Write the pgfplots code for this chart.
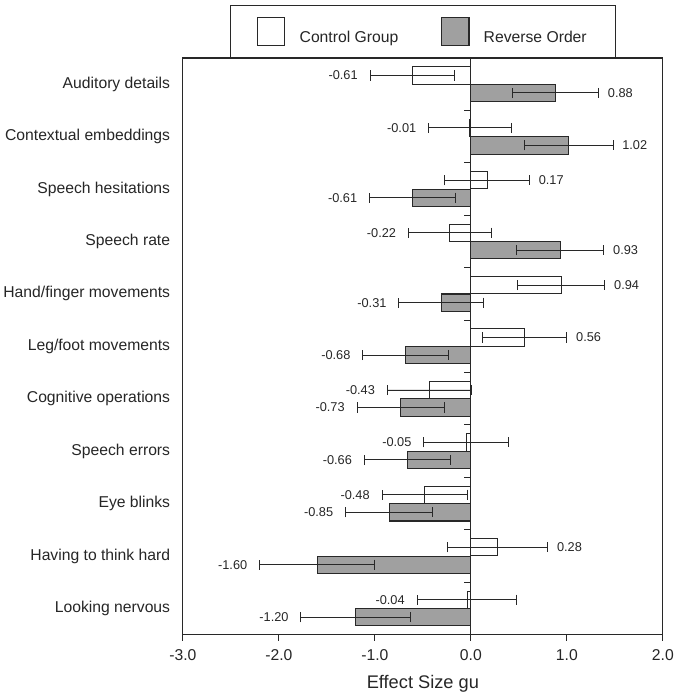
\documentclass[border=0pt]{standalone}
\usepackage{fontspec}
\setmainfont{Liberation Sans}
\usepackage{pgfplots}
\pgfplotsset{compat=1.18}
\usepackage{pgfplotstable}
\definecolor{barfill}{RGB}{160,160,160}
\definecolor{linegray}{RGB}{40,40,40}

% i: category from top; ctrl/rev: effect size; ctrlE/revE: error half-width
\pgfplotstableread{
i  ctrl  ctrlE  rev    revE
1  -0.61 0.44   0.88   0.45
2  -0.01 0.43   1.02   0.46
3   0.17 0.44  -0.61   0.445
4  -0.22 0.43   0.93   0.455
5   0.94 0.455 -0.31   0.44
6   0.56 0.44  -0.68   0.445
7  -0.43 0.44  -0.73   0.455
8  -0.05 0.44  -0.66   0.45
9  -0.48 0.445 -0.85   0.455
10  0.28 0.52  -1.60   0.60
11 -0.04 0.52  -1.20   0.57
}\data

\pgfplotsset{
    errstyle/.style={
        error bars/.cd, x dir=both, x explicit,
        error mark=|,
        error bar style={line width=0.9bp, linegray},
        error mark options={mark size=5bp, line width=0.9bp, linegray}},
    vallabel/.style={forget plot, draw=none, mark=none, point meta=explicit,
        nodes near coords={\pgfmathprintnumber[fixed, fixed zerofill, precision=2]{\pgfplotspointmeta}}},
}

\begin{document}
\begin{tikzpicture}
\begin{axis}[
    scale only axis,
    width=472bp, height=567bp,
    xmin=-3, xmax=2, ymin=0.5, ymax=11.5,
    y dir=reverse,
    /pgf/number format/assume math mode=true,
    xtick={-3,-2,-1,0,1,2},
    xticklabel style={yshift=-5bp, /pgf/number format/.cd, fixed, fixed zerofill, precision=1},
    ytick={1,...,11},
    yticklabels={Auditory details, Contextual embeddings, Speech hesitations,
        Speech rate, Hand/finger movements, Leg/foot movements,
        Cognitive operations, Speech errors, Eye blinks,
        Having to think hard, Looking nervous},
    yticklabel style={xshift=-3bp},
    ytick style={draw=none},
    xtick pos=bottom,
    tick align=outside,
    major tick length=6bp,
    tick style={linegray, line width=1bp},
    tick label style={font=\fontsize{15.5}{18}\selectfont, text=black!85},
    xlabel={Effect Size gu},
    xlabel style={font=\fontsize{18}{21}\selectfont, text=black!85, yshift=-8bp},
    axis line style={linegray, line width=1.2bp},
    bar width=0.33,
    legend style={at={(0.5,1)}, anchor=south, legend columns=2,
        draw=linegray, line width=1bp, inner xsep=26bp, inner ysep=11.5bp,
        font=\fontsize{15.5}{18}\selectfont, text=black!85,
        cells={anchor=west, inner sep=0pt},
        /tikz/every odd column/.append style={column sep=12bp},
        /tikz/every even column/.append style={column sep=40bp}},
    legend image code/.code={\draw[#1] (0bp,-7.9bp) rectangle (27bp,19.1bp);},
    every node near coord/.append style={font=\fontsize{12.6}{14}\selectfont, text=black!85, inner sep=0pt},
]
\addplot[xbar, bar shift=0pt, draw=linegray, fill=white, line width=1bp, errstyle]
    table[x=ctrl, y expr=\thisrow{i}-0.167, x error=ctrlE]{\data};
\addlegendentry{Control Group}
\addplot[xbar, bar shift=0pt, draw=linegray, fill=barfill, line width=1bp, errstyle]
    table[x=rev, y expr=\thisrow{i}+0.167, x error=revE]{\data};
\addlegendentry{Reverse Order}

% value labels beside the error bar ends
\addplot[vallabel, restrict x to domain=-10:0,
    nodes near coords style={anchor=east, xshift=-12bp}]
    table[x expr={(\thisrow{ctrl}<0) ? (\thisrow{ctrl}-\thisrow{ctrlE}) : (\thisrow{ctrl}+\thisrow{ctrlE})},
          y expr=\thisrow{i}-0.167, meta=ctrl]{\data};
\addplot[vallabel, restrict x to domain=0:10,
    nodes near coords style={anchor=west, xshift=9bp}]
    table[x expr={(\thisrow{ctrl}<0) ? (\thisrow{ctrl}-\thisrow{ctrlE}) : (\thisrow{ctrl}+\thisrow{ctrlE})},
          y expr=\thisrow{i}-0.167, meta=ctrl]{\data};
\addplot[vallabel, restrict x to domain=-10:0,
    nodes near coords style={anchor=east, xshift=-12bp}]
    table[x expr={(\thisrow{rev}<0) ? (\thisrow{rev}-\thisrow{revE}) : (\thisrow{rev}+\thisrow{revE})},
          y expr=\thisrow{i}+0.167, meta=rev]{\data};
\addplot[vallabel, restrict x to domain=0:10,
    nodes near coords style={anchor=west, xshift=9bp}]
    table[x expr={(\thisrow{rev}<0) ? (\thisrow{rev}-\thisrow{revE}) : (\thisrow{rev}+\thisrow{revE})},
          y expr=\thisrow{i}+0.167, meta=rev]{\data};

% zero line with small ticks between categories
\draw[linegray, line width=1bp] (axis cs:0,0.5) -- (axis cs:0,11.5);
\pgfplotsinvokeforeach{1.5,2.5,...,10.5}{
    \draw[linegray, line width=1bp] (axis cs:0,#1) -- (axis cs:-0.075,#1);
}
\end{axis}
\path (current bounding box.north) ++(0,5bp);
\end{tikzpicture}
\end{document}
